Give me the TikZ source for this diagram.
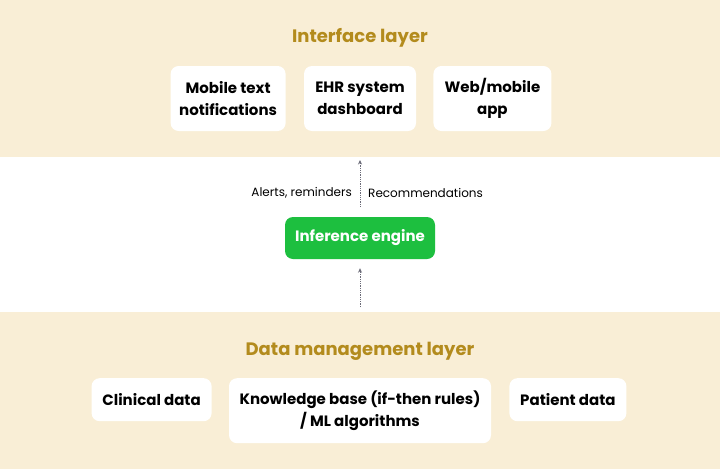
\documentclass[tikz,border=0pt]{standalone}
\usepackage{fontspec}
\setmainfont{Poppins}
\usetikzlibrary{positioning, arrows.meta}
\definecolor{bandbeige}{HTML}{F9EED6}
\definecolor{layergold}{HTML}{B38B1D}
\definecolor{enginegreen}{HTML}{1DBF3F}
\definecolor{flowgray}{HTML}{6B6B78}
\tikzstyle{layertitle} = [text=layergold, font=\fontsize{18}{21}\selectfont\bfseries]
\tikzstyle{outbox} = [rectangle, rounded corners=8pt, fill=white, minimum height=65pt, align=center, font=\fontsize{15}{22}\selectfont\bfseries, inner sep=0pt]
\tikzstyle{databox} = [rectangle, rounded corners=8pt, fill=white, align=center, font=\fontsize{15}{22}\selectfont\bfseries, inner sep=0pt]
\tikzstyle{engine} = [rectangle, rounded corners=8pt, fill=enginegreen, text=white, minimum width=150pt, minimum height=42pt, font=\fontsize{15}{18}\selectfont\bfseries]
\tikzstyle{flowlabel} = [font=\fontsize{12}{14}\selectfont, inner sep=0pt]
\tikzstyle{flow} = [densely dotted, line width=0.8pt, draw=flowgray, -{Stealth[length=4.5pt, width=4pt]}]

\begin{document}
\begin{tikzpicture}[x=1pt, y=-1pt]

% bands
\fill[bandbeige] (0,0) rectangle (720,157);
\fill[white] (0,157) rectangle (720,312);
\fill[bandbeige] (0,312) rectangle (720,469);
\useasboundingbox (0,0) rectangle (720,469);

% interface layer
\node (iftitle) [layertitle] at (360,38) {Interface layer};
\node (ehr) [outbox, minimum width=112pt] at (360,98.5) {EHR system\\dashboard};
\node (mobile) [outbox, minimum width=115pt, left=18pt of ehr] {Mobile text\\notifications};
\node (web) [outbox, minimum width=118pt, right=17pt of ehr] {Web/mobile\\app};

% engine
\node (engine) [engine] at (360,238) {Inference engine};
\coordinate (toptip) at (360,160);
\coordinate (botstart) at (360,307);
\node (alerts) [flowlabel, anchor=east] at (352,193) {Alerts, reminders};
\node (recs) [flowlabel, anchor=west] at (368,193) {Recommendations};

\draw [flow, shorten <=10pt] (engine) -- (toptip);
\draw [flow, shorten >=9pt] (botstart) -- (engine);

% data management layer
\node (dmtitle) [layertitle] at (360,351) {Data management layer};
\node (kb) [databox, minimum width=262pt, minimum height=65pt, anchor=north] at (360,378) {Knowledge base (if-then rules)\\/ ML algorithms};
\node (clinical) [databox, minimum width=120pt, minimum height=43pt, left=17pt of kb.north west, anchor=north east] {Clinical data};
\node (patient) [databox, minimum width=117pt, minimum height=43pt, right=18pt of kb.north east, anchor=north west] {Patient data};

\end{tikzpicture}
\end{document}
